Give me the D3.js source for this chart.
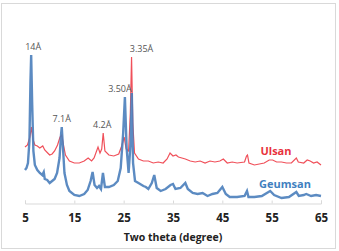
<!DOCTYPE html>
<html>
<head>
<meta charset="utf-8">
<script src="https://cdn.jsdelivr.net/npm/d3@7"></script>
<style>
  body { margin: 0; background: #fff; }
  svg text { font-family: "Open Sans", "Noto Sans", sans-serif; }
</style>
</head>
<body>
<div id="chart"></div>
<script>
// two theta (degree) / intensity (a.u.)
var geumsanTheta = [5.0,5.3,5.6,5.9,6.1,6.25,6.45,6.7,7.0,7.5,8.0,8.5,8.8,9.0,9.5,10.0,10.5,11.0,11.5,12.0,12.3,12.45,12.7,13.0,13.5,14.0,15.0,16.0,17.0,17.7,18.3,18.7,19.1,19.6,20.0,20.4,20.8,21.2,22.0,23.0,23.8,24.4,24.9,25.25,25.6,26.0,26.4,26.65,26.9,27.3,28.0,29.0,29.5,30.0,30.7,31.2,31.7,32.5,33.5,34.5,35.0,35.5,36.5,37.5,38.0,39.0,40.0,41.0,42.0,43.0,44.0,45.0,45.7,46.5,48.0,49.5,50.0,50.3,51.5,53.0,54.7,55.5,57.0,58.5,60.0,60.5,61.5,62.0,63.0,64.0,65.0];
var geumsanI = [33,35,40,62,120,148,100,52,38,33,30,28,31,24,23,20,22,24,30,45,68,76,55,30,18,12,8,7,9,13,22,31,18,15,17,14,30,16,16,18,22,35,70,106,55,30,60,110,40,22,20,17,16,14,20,28,15,12,14,18,19,14,15,20,14,10,9,10,7,9,10,16,9,6,6,7,12,6,6,7,12,8,5,6,11,7,8,9,7,8,7];

var ulsanTheta = [5.0,5.5,6.0,6.3,6.6,7.0,7.5,8.0,8.6,9.0,9.6,10.0,10.5,11.0,11.6,12.1,12.45,12.8,13.2,14.0,15.0,16.0,17.0,17.8,18.5,19.0,19.8,20.2,20.55,20.85,21.2,22.0,23.0,24.0,24.6,25.1,25.5,26.0,26.35,26.6,26.85,27.2,28.0,29.0,30.0,31.0,32.0,33.0,33.8,34.4,35.0,35.6,36.1,36.8,37.5,38.5,39.5,40.5,41.5,42.5,43.5,44.5,45.2,46.0,47.0,48.0,49.5,49.9,50.1,50.4,51.5,52.5,53.5,54.5,55.2,56.0,57.0,58.0,59.0,60.0,60.4,61.5,62.2,62.8,63.5,64.2,65.0];
var ulsanI = [56,58,66,76,64,58,57,55,57,53,50,48,49,52,58,66,68,58,48,42,40,40,42,45,42,45,56,50,54,70,52,48,47,49,57,66,54,52,90,146,80,50,44,42,42,40,41,40,44,50,47,48,46,45,44,42,41,42,40,42,41,42,44,40,41,40,41,47,48,40,38,39,40,43,43,41,41,40,40,45,41,40,43,42,40,41,38];

var xTicks = [5, 15, 25, 35, 45, 55, 65];

// peak labels: [two theta, intensity of peak, text]
var peakTheta = [6.25, 12.45, 20.85, 25.25, 26.6];
var peakI = [148, 76, 70, 106, 146];
var peakText = ["14Å", "7.1Å", "4.2Å", "3.50Å", "3.35Å"];
var peakDx = [2, 0, -1, -5, 10];

var seriesNames = ["Ulsan", "Geumsan"];

var width = 339, height = 251;

var svg = d3.select("#chart")
    .append("svg")
    .attr("width", width)
    .attr("height", height);

svg.append("rect")
    .attr("x", 1.5).attr("y", 3.5)
    .attr("width", 334).attr("height", 245)
    .attr("fill", "#fff")
    .attr("stroke", "#d9d9d9");

var x = d3.scaleLinear().domain([5, 65]).range([25, 321]);
var y = d3.scaleLinear().domain([0, 160]).range([203, 43]);

// axis line with small upward ticks
var axis = svg.append("g")
    .attr("transform", "translate(0,203.5)")
    .call(d3.axisBottom(x).tickValues(xTicks).tickSize(-3).tickFormat(d3.format("d")));
axis.select(".domain").attr("stroke", "#d9d9d9");
axis.selectAll(".tick line").attr("stroke", "#d9d9d9");
axis.selectAll(".tick text")
    .attr("y", 10)
    .attr("font-size", 11.5)
    .attr("font-weight", "bold")
    .attr("fill", "#222")
    .style("font-family", "'Open Sans', sans-serif");

svg.append("text")
    .attr("x", 173).attr("y", 241)
    .attr("text-anchor", "middle")
    .attr("font-size", 10.5)
    .attr("font-weight", "bold")
    .attr("fill", "#222")
    .text("Two theta (degree)");

var line = d3.line()
    .x(function(d) { return x(d[0]); })
    .y(function(d) { return y(d[1]); });

var geumsan = geumsanTheta.map(function(t, i) { return [t, geumsanI[i]]; });
var ulsan = ulsanTheta.map(function(t, i) { return [t, ulsanI[i]]; });

svg.append("path")
    .datum(ulsan)
    .attr("fill", "none")
    .attr("stroke", "#f0505a")
    .attr("stroke-width", 1.2)
    .attr("d", line);

svg.append("path")
    .datum(geumsan)
    .attr("fill", "none")
    .attr("stroke", "#4a7ebb")
    .attr("stroke-width", 2.4)
    .attr("stroke-opacity", 0.9)
    .attr("d", line);

svg.selectAll(".peak")
    .data(peakTheta)
    .enter().append("text")
    .attr("class", "peak")
    .attr("x", function(d, i) { return x(d) + peakDx[i]; })
    .attr("y", function(d, i) { return y(peakI[i]) - 5; })
    .attr("text-anchor", "middle")
    .attr("font-size", 9)
    .attr("fill", "#555")
    .text(function(d, i) { return peakText[i]; });

svg.append("text")
    .attr("x", 276).attr("y", 155)
    .attr("text-anchor", "middle")
    .attr("font-size", 11)
    .attr("font-weight", "bold")
    .attr("fill", "#e8323c")
    .text(seriesNames[0]);

svg.append("text")
    .attr("x", 285).attr("y", 188)
    .attr("text-anchor", "middle")
    .attr("font-size", 11)
    .attr("font-weight", "bold")
    .attr("fill", "#3f7fc0")
    .text(seriesNames[1]);
</script>
</body>
</html>
